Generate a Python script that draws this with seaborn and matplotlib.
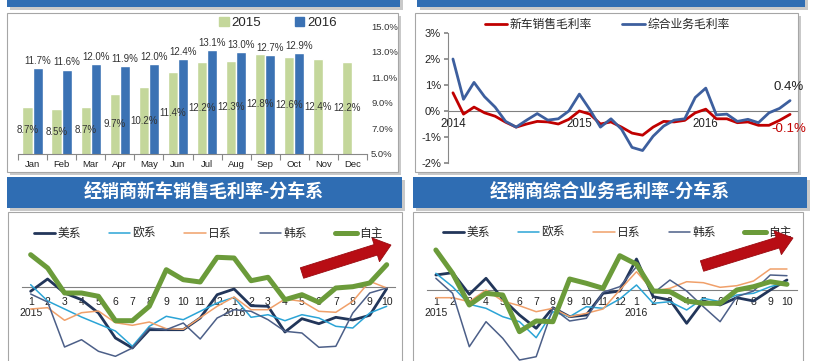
import numpy as np
import pandas as pd
import seaborn as sns
import matplotlib.pyplot as plt
from matplotlib.patches import Rectangle, FancyArrow, Patch

sns.set_theme(style="white")
plt.rcParams['font.family'] = ['Liberation Sans', 'Noto Sans CJK SC', 'DejaVu Sans']
plt.rcParams['axes.unicode_minus'] = False

W, H = 813, 361

# ---- data: monthly gross margin, 2015 vs 2016 ----
months = ['Jan', 'Feb', 'Mar', 'Apr', 'May', 'Jun', 'Jul', 'Aug', 'Sep', 'Oct', 'Nov', 'Dec']
gm_2015 = [8.7, 8.5, 8.7, 9.7, 10.2, 11.4, 12.2, 12.3, 12.8, 12.6, 12.4, 12.2]
gm_2016 = [11.7, 11.6, 12.0, 11.9, 12.0, 12.4, 13.1, 13.0, 12.7, 12.9]

# ---- data: yoy change of margins, Jan 2014 .. Sep 2016 ----
trend_years = ['2014', '2015', '2016']
newcar_chg = [0.7, -0.12, 0.15, -0.07, -0.2, -0.43, -0.62, -0.5, -0.4, -0.42, -0.5, -0.32,
              0.0, -0.12, -0.5, -0.42, -0.62, -0.85, -0.93, -0.62, -0.4, -0.42, -0.36, -0.07,
              0.07, -0.3, -0.3, -0.45, -0.42, -0.55, -0.55, -0.36, -0.13]
overall_chg = [2.0, 0.45, 1.1, 0.55, 0.15, -0.4, -0.62, -0.35, -0.1, -0.35, -0.3, 0.0,
               0.65, 0.05, -0.62, -0.3, -0.7, -1.4, -1.52, -0.97, -0.58, -0.35, -0.3, 0.52,
               0.88, -0.15, -0.12, -0.4, -0.32, -0.45, -0.07, 0.1, 0.4]

# ---- data: by brand origin, Jan 2015 .. Oct 2016 ----
brand_months = [str(m) for m in range(1, 13)] + [str(m) for m in range(1, 11)]
brands = ['美系', '欧系', '日系', '韩系', '自主']
new_us = [-0.43, 0.8, -0.6, -1.27, -2.6, -5.1, -6.1, -4.27, -4.27, -4.27, -3.1, -0.77,
          -0.2, -1.87, -1.93, -4.5, -3.17, -3.67, -3.03, -3.3, -2.83, -0.17]
new_eu = [0.23, -1.4, -2.2, -3.0, -3.7, -4.4, -5.93, -3.93, -2.93, -3.27, -2.43, -1.6,
          -1.03, -3.03, -2.77, -3.37, -2.77, -3.1, -3.93, -4.1, -2.6, -1.93]
new_jp = [-2.2, -2.07, -3.33, -2.57, -2.4, -3.57, -3.83, -3.5, -4.17, -4.23, -3.07, -1.93,
          -1.0, -2.27, -2.27, -1.2, -1.43, -2.43, -2.53, -1.43, 0.57, -0.1]
new_kr = [-0.7, -1.5, -6.0, -5.27, -6.43, -6.93, -6.1, -4.1, -4.27, -3.6, -5.2, -3.1,
          -2.27, -2.43, -3.27, -4.43, -4.6, -6.03, -5.93, -2.6, -0.6, -0.1]
new_own = [3.23, 1.9, -0.6, -0.6, -0.93, -3.37, -3.37, -1.93, 1.73, 0.73, 0.5, 2.97,
           2.9, 0.63, 0.97, -1.27, -0.77, -1.53, -0.1, 0.03, 0.4, 2.23]

all_us = [1.5, 1.73, -0.43, 1.17, -0.9, -2.5, -3.83, -1.77, -2.67, -2.5, -0.33, -0.1,
          3.1, -0.67, -1.0, -3.33, -1.1, -1.5, -0.77, -1.1, 0.0, 1.0]
all_eu = [1.67, 0.33, -1.43, -1.83, -2.67, -3.17, -4.77, -2.17, -2.67, -1.67, -1.83, -0.9,
          0.5, -1.33, -1.17, -2.0, -0.83, -1.17, -0.5, -0.33, 0.33, 0.77]
all_jp = [-0.77, -0.77, -1.17, 0.0, -1.1, -1.57, -2.17, -1.83, -2.67, -2.33, -1.9, 0.0,
          1.83, -0.1, 0.17, 0.83, 0.73, 0.27, 0.43, 0.9, 2.1, 2.1]
all_kr = [1.17, -0.33, -5.67, -3.17, -4.83, -7.0, -6.67, -1.83, -3.1, -2.83, -0.23, 0.33,
          2.33, -0.33, 1.0, -0.1, -1.67, -3.17, -0.67, -0.1, 1.5, 1.43]
all_own = [4.0, 1.67, -1.5, -0.33, -0.5, -4.17, -3.1, -3.17, 1.1, 0.67, 0.17, 3.43,
           2.57, -0.1, -0.17, -1.1, -1.33, -1.33, 0.0, 0.33, 0.83, 0.57]

brand_colors = ['#22365a', '#2ba4d6', '#f0a06a', '#4c5f88', '#6b9b3a']
brand_widths = [2.0, 1.1, 1.1, 1.1, 3.6]
BLUE = '#2f6db3'


def rect(x0, y0, x1, y1):
    return [x0 / W, 1 - y1 / H, (x1 - x0) / W, (y1 - y0) / H]


def fig_box(x0, y0, x1, y1, fc, ec='none', shadow=True):
    if shadow:
        fig.add_artist(Rectangle((x0 / W + 2.5 / W, 1 - y1 / H - 2.5 / H), (x1 - x0) / W, (y1 - y0) / H,
                                 transform=fig.transFigure, fc='#c9c9c9', ec='none', zorder=-3))
    fig.add_artist(Rectangle((x0 / W, 1 - y1 / H), (x1 - x0) / W, (y1 - y0) / H,
                             transform=fig.transFigure, fc=fc, ec=ec, lw=0.8, zorder=-2))


fig = plt.figure(figsize=(W / 100, H / 100), dpi=100)
fig.patch.set_facecolor('white')

# frames and title bars
fig_box(7, -10, 400, 7, BLUE)
fig_box(417, -10, 805, 7, BLUE)
fig_box(7, 13, 398, 172, 'white', '#a6a6a6')
fig_box(415, 13, 798, 172, 'white', '#a6a6a6')
fig_box(7, 177, 402, 208, BLUE)
fig_box(413, 177, 807, 208, BLUE)
fig_box(8, 212, 402, 380, 'white', '#a6a6a6', shadow=False)
fig_box(413, 212, 803, 380, 'white', '#a6a6a6', shadow=False)
fig.text(204 / W, 1 - 193 / H, '经销商新车销售毛利率-分车系', color='white', fontsize=13,
         fontweight='bold', ha='center', va='center')
fig.text(610 / W, 1 - 193 / H, '经销商综合业务毛利率-分车系', color='white', fontsize=13,
         fontweight='bold', ha='center', va='center')

# ---- top left: bar chart ----
bars = pd.DataFrame({
    'month': months + months[:len(gm_2016)],
    'year': ['2015'] * len(gm_2015) + ['2016'] * len(gm_2016),
    'rate': gm_2015 + gm_2016,
})
ax1 = fig.add_axes(rect(18, 26, 367, 154))
ax1.set_facecolor('none')
sns.barplot(data=bars, x='month', y='rate', hue='year', order=months, hue_order=['2015', '2016'],
            palette=['#c4d79b', '#3b72b4'], width=0.7, saturation=1, errorbar=None,
            legend=False, ax=ax1)
ax1.bar_label(ax1.containers[0], fmt='%.1f%%', label_type='center', fontsize=7, color='#333333')
ax1.bar_label(ax1.containers[1], fmt='%.1f%%', padding=1.5, fontsize=7, color='#333333')
ax1.set_ylim(5, 15)
ax1.set_xlim(-0.5, 11.5)
ax1.yaxis.tick_right()
ax1.set_yticks(np.arange(5, 15.1, 2))
ax1.set_yticklabels([f'{v:.1f}%' for v in np.arange(5, 15.1, 2)], fontsize=6.8, color='#333333')
ax1.tick_params(axis='y', length=0, pad=3)
ax1.tick_params(axis='x', which='major', length=0, labelsize=6.8, pad=4, labelcolor='#222222')
ax1.set_xticks(np.arange(-0.5, 12, 1), minor=True)
ax1.tick_params(axis='x', which='minor', length=4, color='#888888', width=0.8, bottom=True)
ax1.set_xlabel('')
ax1.set_ylabel('')
for s in ['left', 'right', 'top']:
    ax1.spines[s].set_visible(False)
ax1.spines['bottom'].set_color('#888888')
ax1.spines['bottom'].set_linewidth(0.8)
fig.legend(handles=[Patch(color='#c4d79b', label='2015'), Patch(color='#3b72b4', label='2016')],
           loc='center', bbox_to_anchor=(278 / W, 1 - 23 / H), ncol=2, frameon=False,
           fontsize=9.5, handlelength=0.7, handleheight=0.7, handletextpad=0.2, columnspacing=2.6)

# ---- top right: margin change lines ----
ax2 = fig.add_axes(rect(448, 33, 797, 163))
ax2.set_facecolor('none')
t = np.arange(len(newcar_chg))
sns.lineplot(x=t, y=newcar_chg, ax=ax2, color='#c00000', lw=2.0, label='新车销售毛利率')
sns.lineplot(x=t, y=overall_chg, ax=ax2, color='#3d5f9e', lw=2.0, label='综合业务毛利率')
ax2.spines['bottom'].set_position(('data', 0))
ax2.spines['bottom'].set_color('#808080')
ax2.spines['bottom'].set_linewidth(0.8)
ax2.spines['bottom'].set_zorder(1)
ax2.spines['left'].set_color('#888888')
ax2.spines['left'].set_linewidth(0.8)
for s in ['right', 'top']:
    ax2.spines[s].set_visible(False)
ax2.set_ylim(-2, 3)
ax2.set_xlim(-0.47, 32.66)
ax2.set_yticks(range(-2, 4))
ax2.set_yticklabels([f'{v}%' for v in range(-2, 4)], fontsize=8, color='#222222')
ax2.tick_params(axis='y', left=True, length=3, color='#888888', pad=2)
ax2.set_xticks([0, 12, 24])
ax2.set_xticklabels(trend_years, fontsize=8.3, color='#222222')
ax2.tick_params(axis='x', length=0, pad=5)
ax2.set_xlabel('')
ax2.text(t[-1] - 0.1, overall_chg[-1] + 0.3, f'{overall_chg[-1]:.1f}%', fontsize=9.5,
         color='#222222', ha='center', va='bottom')
ax2.text(t[-1] - 0.1, newcar_chg[-1] - 0.35, f'{newcar_chg[-1]:.1f}%', fontsize=9.5,
         color='#c00000', ha='center', va='top')
ax2.legend(loc='center', bbox_to_anchor=(607 / W, 1 - 25 / H), bbox_transform=fig.transFigure,
           ncol=2, frameon=False, fontsize=8.5, handlelength=1.9, handletextpad=0.2,
           columnspacing=2.6)


# ---- bottom: by brand origin ----
def brand_panel(rect_px, xlim, ylim, series, legend_xy, arrow, pad):
    ax = fig.add_axes(rect(*rect_px))
    ax.set_facecolor('none')
    x = np.arange(len(brand_months))
    for name, vals, c, lw in zip(brands, series, brand_colors, brand_widths):
        sns.lineplot(x=x, y=vals, ax=ax, color=c, lw=lw, label=name)
    ax.spines['bottom'].set_position(('data', 0))
    ax.spines['bottom'].set_color('#808080')
    ax.spines['bottom'].set_linewidth(0.8)
    ax.spines['bottom'].set_zorder(1)
    for s in ['left', 'right', 'top']:
        ax.spines[s].set_visible(False)
    ax.set_xlim(*xlim)
    ax.set_ylim(*ylim)
    labels = list(brand_months)
    labels[0] = labels[0] + '\n2015'
    labels[12] = labels[12] + '\n2016'
    ax.set_xticks(x)
    ax.set_xticklabels(labels, fontsize=7.5, color='#222222', va='top')
    for lab in ax.get_xticklabels():
        lab.set_linespacing(1.1)
    ax.tick_params(axis='x', length=0, pad=pad)
    ax.set_yticks([])
    ax.legend(loc='center', bbox_to_anchor=(legend_xy[0] / W, 1 - legend_xy[1] / H),
              bbox_transform=fig.transFigure, ncol=5, frameon=False, fontsize=8.5,
              handlelength=1.8, handletextpad=0.2, columnspacing=2.4)
    (x0, y0), (x1, y1) = arrow
    fig.add_artist(FancyArrow(x0 / 100, (H - y0) / 100, (x1 - x0) / 100, (y0 - y1) / 100,
                              width=0.11, head_width=0.25, head_length=0.16,
                              length_includes_head=True, transform=fig.dpi_scale_trans,
                              fc='#b80d14', ec='#9a0a10', lw=0.6, zorder=5))
    return ax


brand_panel((22, 222, 395, 361), (-0.51, 21.49), (-7.4, 6.5),
            [new_us, new_eu, new_jp, new_kr, new_own], (208, 234),
            ((302, 273), (391, 245)), 7)
brand_panel((427, 222, 797, 361), (-0.53, 21.6), (-7.1, 6.8),
            [all_us, all_eu, all_jp, all_kr, all_own], (617, 233),
            ((702, 266), (793, 238)), 5)

fig.savefig('out.png', dpi=100)
